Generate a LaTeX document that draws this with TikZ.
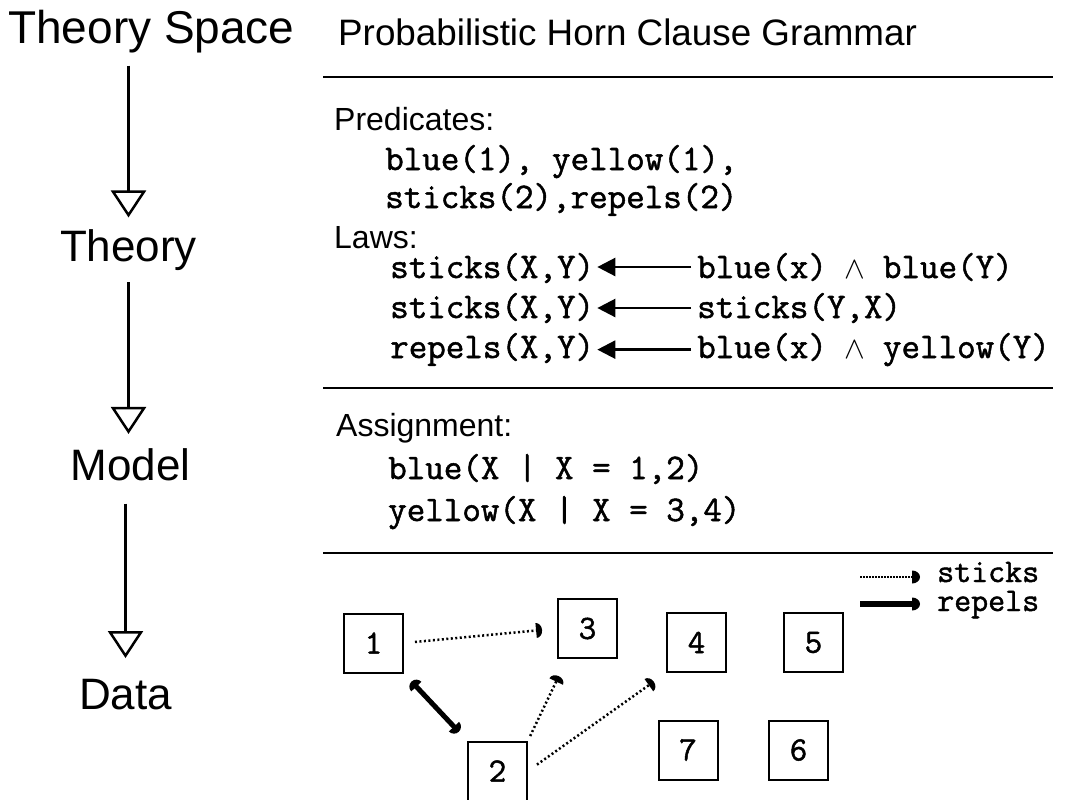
\documentclass[tikz,border=0pt]{standalone}
\usepackage{fontspec}
\setmainfont{Liberation Sans}
\newfontfamily\codefont[FakeBold=1.4]{Latin Modern Mono}
\usetikzlibrary{arrows.meta}
\pgfdeclarearrow{
  name = HalfDisc,
  parameters = {\the\pgfarrowlength,\the\pgfarrowwidth},
  setup code = {
    \pgfarrowssettipend{\pgfarrowlength}
    \pgfarrowssetbackend{0pt}
    \pgfarrowssetlineend{0.5pt}
    \pgfarrowssavethe\pgfarrowlength
    \pgfarrowssavethe\pgfarrowwidth
  },
  drawing code = {
    \pgfpathmoveto{\pgfqpoint{0pt}{-.5\pgfarrowwidth}}
    \pgfpatharc{-90}{90}{\pgfarrowlength and .5\pgfarrowwidth}
    \pgfpathclose
    \pgfusepathqfill
  },
  defaults = {length=6pt, width=14pt}
}
\begin{document}
\begin{tikzpicture}[x=1pt,y=-1pt,
  big/.style={inner sep=0pt, anchor=base, font=\fontsize{44}{48}\selectfont},
  head/.style={inner sep=0pt, anchor=base west},
  sect/.style={inner sep=0pt, anchor=base west, font=\fontsize{32}{34}\selectfont},
  code/.style={inner sep=0pt, anchor=base west, font=\codefont\fontsize{36}{40}\selectfont},
  flow/.style={line width=2.5pt, -{Triangle[open, length=27pt, width=35pt, line width=2.5pt]}},
  lawarrow/.style={line width=2.5pt, -{Triangle[length=18pt, width=18pt]}},
  rule/.style={line width=2.5pt},
  cell/.style={draw, line width=2pt, minimum size=59pt, inner sep=0pt, font=\codefont\fontsize{34}{34}\selectfont},
  stick/.style={line width=2.5pt, dash pattern=on 2pt off 2.5pt, -{HalfDisc[length=6pt, width=15pt]}},
  repel/.style={line width=5pt, {HalfDisc[length=7pt, width=14pt]}-{HalfDisc[length=7pt, width=14pt]}},
  legdot/.style={line width=1.5pt, dash pattern=on 1.5pt off 1.5pt, -{HalfDisc[length=8pt, width=13pt]}},
  legthick/.style={line width=5.5pt, -{HalfDisc[length=8pt, width=13pt]}},
  legtext/.style={inner sep=0pt, anchor=base west, font=\codefont\fontsize{33}{35}\selectfont}
]
\useasboundingbox (0,0) rectangle (1069,800);
\newcommand{\wdg}{\makebox[0.525em]{\scalebox{1.25}{$\wedge$}}}

% left column
\node[inner sep=0pt, anchor=base west, font=\fontsize{46}{50}\selectfont] (ts) at (8,44) {Theory Space};
\node[big] (theory) at (128.5,261) {Theory};
\node[big] (model) at (130.5,480) {Model};
\node[big] (data) at (125.5,709) {Data};
\draw[flow, shorten <=12pt, shorten >=11.5pt] (ts.south -| theory.north) -- (theory.north);
\draw[flow, shorten <=12pt, shorten >=14pt] (theory.south) -- (theory.south |- model.north);
\draw[flow, shorten <=23pt, shorten >=20.5pt] (data.north |- model.south) -- (data.north);

% header
\node[head, font=\fontsize{36.8}{40}\selectfont] (title) at (338,46) {Probabilistic Horn Clause Grammar};
\draw[rule] (323,77) -- (1053,77);

\node[sect] (pred) at (334,131) {Predicates:};
\node[code] (p1) at (385,170) {blue(1), yellow(1),};
\node[code] (p2) at (385,208) {sticks(2),repels(2)};
\node[sect] (laws) at (334,248) {Laws:};

\node[code] (l1) at (390,278) {sticks(X,Y)};
\node[code] (r1) at (697,278) {blue(x) \wdg{} blue(Y)};
\node[code] (l2) at (390,318) {sticks(X,Y)};
\node[code] (r2) at (697,318) {sticks(Y,X)};
\node[code] (l3) at (390,358) {repels(X,Y)};
\node[code] (r3) at (697,358) {blue(x) \wdg{} yellow(Y)};
\draw[lawarrow, shorten <=6pt, shorten >=3pt] (r1.west) -- (r1.west -| l1.east);
\draw[lawarrow, shorten <=6pt, shorten >=3pt] (r2.west) -- (r2.west -| l2.east);
\draw[lawarrow, shorten <=6pt, shorten >=3pt] (r3.west) -- (r3.west -| l3.east);

\draw[rule] (323,388) -- (1053,388);
\node[sect] (assign) at (336,436) {Assignment:};
\node[code] (a1) at (388,479) {blue(X | X = 1,2)};
\node[code] (a2) at (388,521) {yellow(X | X = 3,4)};
\draw[rule] (323,553) -- (1053,553);

% data
\node[cell] (n1) at (373.5,643) {1};
\node[cell] (n3) at (587.5,628.5) {3};
\node[cell] (n4) at (696.5,642.5) {4};
\node[cell] (n5) at (813.5,642.5) {5};
\node[cell] (n2) at (497.5,771) {2};
\node[cell] (n7) at (688,750) {7};
\node[cell] (n6) at (798.5,750) {6};

\draw[stick, shorten <=11pt, shorten >=15pt] (n1.east) -- (n3.west);
\draw[stick, shorten <=5pt, shorten >=19pt] (n2.north east) -- ([xshift=10pt]n3.south west);
\draw[stick, shorten <=11pt, shorten >=15pt] (n2.east) -- (n4.south west);
\draw[repel, shorten <=11pt, shorten >=12pt] (n1.south east) -- (n2.north west);

% legend
\node[legtext] (lst) at (937,582) {sticks};
\node[legtext] (lrp) at (937,611) {repels};
\coordinate (lg1) at (860,577);
\coordinate (lg2) at (860,604);
\draw[legdot, shorten >=17pt] (lg1) -- (lg1 -| lst.west);
\draw[legthick, shorten >=17pt] (lg2) -- (lg2 -| lrp.west);
\end{tikzpicture}
\end{document}
